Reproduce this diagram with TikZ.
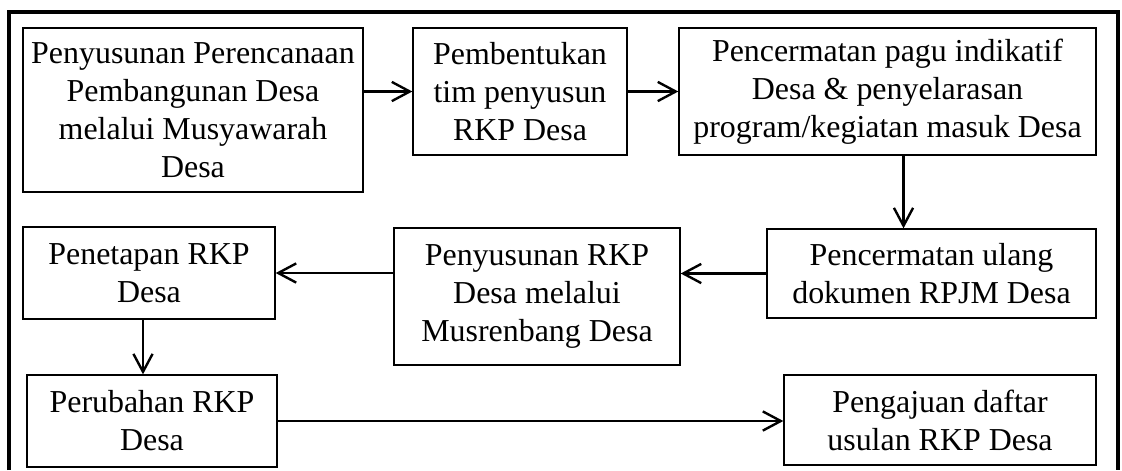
\documentclass[tikz,border=0pt]{standalone}
\usepackage{fontspec}
\setmainfont{Liberation Serif}
\usetikzlibrary{positioning,arrows.meta}

\begin{document}
\begin{tikzpicture}[x=0.025cm,y=-0.025cm,
    box/.style={rectangle, draw, line width=0.9pt, align=center, inner sep=0pt,
        font=\fontsize{22.7}{27}\selectfont},
    arr/.style={line width=1.9pt, -{Straight Barb[length=4.5mm,width=4.8mm,line width=1.7pt]}}]
    \useasboundingbox (0,0) rectangle (1122,470);

    % Outer frame (bottom edge cut off)
    \draw[line width=2.2pt] (9,470) -- (9,12) -- (1118,12) -- (1118,470);

    % First row
    \node[box, minimum width=8.5cm, minimum height=4.1cm] (perencanaan) at (193,110)
        {Penyusunan Perencanaan\\Pembangunan Desa\\melalui Musyawarah\\Desa};
    \node[box, minimum width=5.35cm, minimum height=3.175cm] (tim) at (520,91.5)
        {Pembentukan\\tim penyusun\\RKP Desa};
    \node[box, minimum width=10.425cm, minimum height=3.175cm] (pagu) at (887.5,91.5)
        {Pencermatan pagu indikatif\\Desa \& penyelarasan\\program/kegiatan masuk Desa};

    % Second row
    \node[box, minimum width=8.225cm, minimum height=2.225cm] (rpjm) at (931.5,273.5)
        {Pencermatan ulang\\dokumen RPJM Desa};
    \node[box, minimum width=7.15cm, minimum height=3.425cm] (musrenbang) at (537,296.5)
        {Penyusunan RKP\\Desa melalui\\Musrenbang Desa};
    \node[box, minimum width=6.3cm, minimum height=2.3cm] (penetapan) at (149,273)
        {Penetapan RKP\\Desa};

    % Third row
    \node[box, minimum width=6.25cm, minimum height=2.3cm] (perubahan) at (152,421)
        {Perubahan RKP\\Desa};
    \node[box, minimum width=7.8cm, minimum height=2.25cm] (pengajuan) at (940,420)
        {Pengajuan daftar\\usulan RKP Desa};

    % Connections
    \draw[arr] (tim.west -| perencanaan.east) -- (tim.west);
    \draw[arr] (tim.east) -- (tim.east -| pagu.west);
    \draw[arr] ([xshift=0.4cm]pagu.south) -- ([xshift=0.4cm]pagu.south |- rpjm.north);
    \draw[arr] (rpjm.west) -- (rpjm.west -| musrenbang.east);
    \draw[arr] (musrenbang.west |- penetapan.east) -- (penetapan.east);
    \draw[arr] ([xshift=-0.15cm]penetapan.south) -- ([xshift=-0.15cm]penetapan.south |- perubahan.north);
    \draw[arr] (perubahan.east) -- (perubahan.east -| pengajuan.west);
\end{tikzpicture}
\end{document}
